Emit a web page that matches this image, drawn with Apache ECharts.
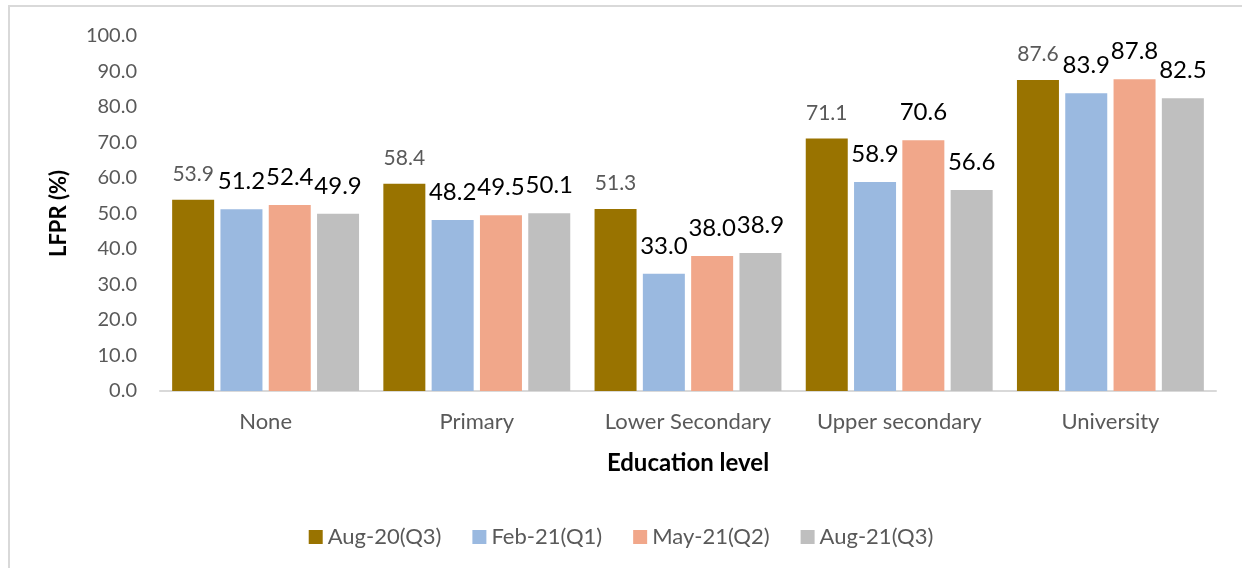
<!DOCTYPE html>
<html>
<head>
<meta charset="utf-8">
<script src="https://cdn.jsdelivr.net/npm/echarts@6/dist/echarts.min.js"></script>
<style>html,body{margin:0;padding:0;background:#fff}#c{width:1242px;height:568px}</style>
</head>
<body>
<div id="c"></div>
<script>
const categories = ['None', 'Primary', 'Lower Secondary', 'Upper secondary', 'University'];
const seriesNames = ['Aug-20(Q3)', 'Feb-21(Q1)', 'May-21(Q2)', 'Aug-21(Q3)'];
const aug20 = [53.9, 58.4, 51.3, 71.1, 87.6];
const feb21 = [51.2, 48.2, 33.0, 58.9, 83.9];
const may21 = [52.4, 49.5, 38.0, 70.6, 87.8];
const aug21 = [49.9, 50.1, 38.9, 56.6, 82.5];
const colors = ['#997300', '#9ab9e0', '#f1a78a', '#bfbfbf'];
const values = [aug20, feb21, may21, aug21];

const FONT = 'Lato, "Open Sans", sans-serif';
const chart = echarts.init(document.getElementById('c'));
chart.setOption({
  animation: false,
  textStyle: { fontFamily: FONT },
  graphic: [{
    type: 'rect', shape: { x: 9, y: 6, width: 1300, height: 700 },
    style: { fill: 'none', stroke: '#d9d9d9', lineWidth: 2 }, silent: true, z: -1
  }],
  grid: { left: 160, right: 26, top: 36, bottom: 177 },
  legend: {
    data: seriesNames, left: 'center', top: 521, icon: 'rect',
    itemWidth: 14, itemHeight: 14, itemGap: 31,
    textStyle: { fontSize: 22, color: '#595959', fontFamily: FONT }
  },
  xAxis: {
    type: 'category', data: categories,
    axisLine: { lineStyle: { color: '#d9d9d9', width: 2 } },
    axisTick: { show: false },
    axisLabel: { fontSize: 22, color: '#595959', margin: 20, interval: 0, fontFamily: FONT },
    name: 'Education level', nameLocation: 'middle', nameGap: 60,
    nameTextStyle: { fontSize: 24, fontWeight: 'bold', color: '#000', fontFamily: FONT }
  },
  yAxis: {
    type: 'value', min: 0, max: 100, interval: 10,
    splitLine: { show: false },
    axisLine: { show: false }, axisTick: { show: false },
    axisLabel: { fontSize: 20, color: '#595959', margin: 23, formatter: v => v.toFixed(1), fontFamily: FONT },
    name: 'LFPR (%)', nameLocation: 'middle', nameGap: 90, nameRotate: 90,
    nameTextStyle: { fontSize: 22, fontWeight: 'bold', color: '#000', fontFamily: FONT }
  },
  series: values.map((d, i) => ({
    name: seriesNames[i], type: 'bar', data: d,
    barWidth: 42, barGap: '15%',
    itemStyle: { color: colors[i] },
    label: {
      show: true, position: 'top', distance: i === 0 ? 15 : 16,
      formatter: p => p.value.toFixed(1),
      fontSize: i === 0 ? 21 : 24, color: i === 0 ? '#595959' : '#000',
      fontFamily: FONT
    }
  }))
});
</script>
</body>
</html>
